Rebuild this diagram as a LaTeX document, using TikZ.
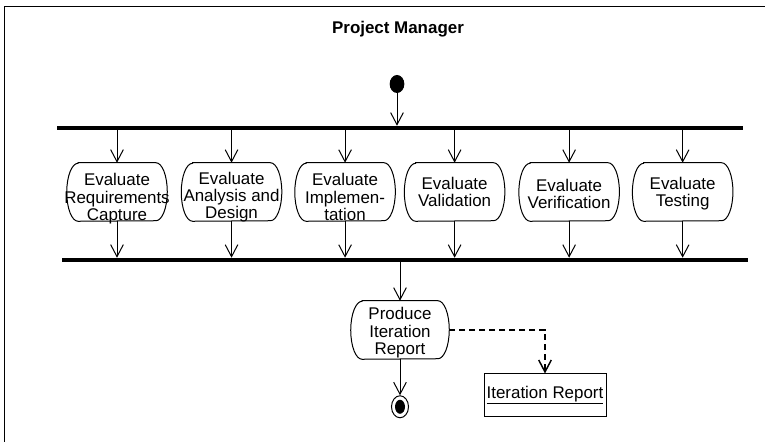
\documentclass[tikz,border=0pt]{standalone}
\usepackage{fontspec}
\setmainfont{Liberation Sans}
\usepackage{tikz}
\usetikzlibrary{shapes, arrows.meta, positioning}

\newcommand{\umlfont}{\fontsize{12.7}{12.9}\selectfont}

\begin{document}
\begin{tikzpicture}[x=0.75pt, y=-0.75pt,
    flow/.style={-{Straight Barb[length=9pt, width=9.5pt]}, line width=0.75pt},
    activity/.style={rectangle, minimum width=75pt, minimum height=43.5pt, inner sep=0pt,
        append after command={\pgfextra{
            \draw[line width=0.75pt] ([xshift=8.5pt]\tikzlastnode.north west) -- ([xshift=-8.5pt]\tikzlastnode.north east)
                arc[start angle=90, end angle=-90, x radius=8.5pt, y radius=21.75pt]
                -- ([xshift=8.5pt]\tikzlastnode.south west)
                arc[start angle=270, end angle=90, x radius=8.5pt, y radius=21.75pt] -- cycle;}}},
    acttext/.style={align=center, font=\umlfont, inner sep=0pt},
    bar/.style={fill=black, minimum height=3pt, minimum width=514.5pt, inner sep=0pt},
    startdot/.style={ellipse, fill=black, minimum width=11pt, minimum height=13.5pt, inner sep=0pt}]
    \useasboundingbox (0,0) rectangle (765,442);
    % Frame
    \draw[line width=1.2pt] (765,6.5) -- (4.5,6.5) -- (4.5,442);

    % Title
    \node[font=\umlfont\bfseries] (title) at (398,29) {Project Manager};

    % Start
    \node[startdot] (start) at (397,84) {};

    % Fork and join bars
    \node[bar] (fork) at (400,128) {};
    \node[bar] (join) at (405,260) {};
    \draw[flow] (start) -- (start |- fork.north);

    % Evaluation activities
    \node[activity] (req) at (117,192) {};
    \node[activity, right=10.5pt of req] (ana) {};
    \node[activity, right=9.75pt of ana] (impl) {};
    \node[activity, right=6.75pt of impl] (valid) {};
    \node[activity, right=10.5pt of valid] (verif) {};
    \node[activity, right=9.75pt of verif] (test) {};

    \node[acttext] (reqtext) at ([yshift=-5pt]req.center) {Evaluate\\Requirements\\Capture};
    \node[acttext] (anatext) at ([yshift=-3.75pt]ana.center) {Evaluate\\Analysis and\\Design};
    \node[acttext] (impltext) at ([yshift=-3.75pt]impl.center) {Evaluate\\Implemen-\\tation};
    \node[acttext] (validtext) at (valid) {Evaluate\\Validation};
    \node[acttext] (veriftext) at ([yshift=-1.5pt]verif.center) {Evaluate\\Verification};
    \node[acttext] (testtext) at ([yshift=-1.5pt]test.center) {Evaluate\\Testing};

    % Into and out of the activities
    \draw[flow] (req |- fork.south) -- (req);
    \draw[flow] (ana |- fork.south) -- (ana);
    \draw[flow] (impl |- fork.south) -- (impl);
    \draw[flow] (valid |- fork.south) -- (valid);
    \draw[flow] (verif |- fork.south) -- (verif);
    \draw[flow] (test |- fork.south) -- (test);

    \draw[flow] (req) -- (req |- join.north);
    \draw[flow] (ana) -- (ana |- join.north);
    \draw[flow] (impl) -- (impl |- join.north);
    \draw[flow] (valid) -- (valid |- join.north);
    \draw[flow] (verif) -- (verif |- join.north);
    \draw[flow] (test) -- (test |- join.north);

    % Report
    \node[activity, minimum width=73.5pt] (produce) at (400,330) {};
    \node[acttext] (producetext) at ([yshift=-2pt]produce.center) {Produce\\Iteration\\Report};
    \draw[flow] (produce |- join.south) -- (produce);

    % End
    \node[draw, ellipse, minimum width=12.75pt, minimum height=16.5pt, inner sep=0pt, line width=0.75pt, below=27pt of produce] (finish) {};
    \node[startdot, minimum width=7.5pt, minimum height=10.5pt] (finishdot) at (finish) {};
    \draw[flow] (produce) -- (finish);

    % Artifact
    \node[draw, minimum width=91.5pt, minimum height=31.5pt, inner xsep=1.5pt, font=\umlfont, line width=0.75pt] (report) at (545,395) {\underline{Iteration Report}};
    \draw[flow, dash pattern=on 4.5pt off 3pt, line width=1.1pt] (produce.east) -| (report.north);
\end{tikzpicture}
\end{document}
